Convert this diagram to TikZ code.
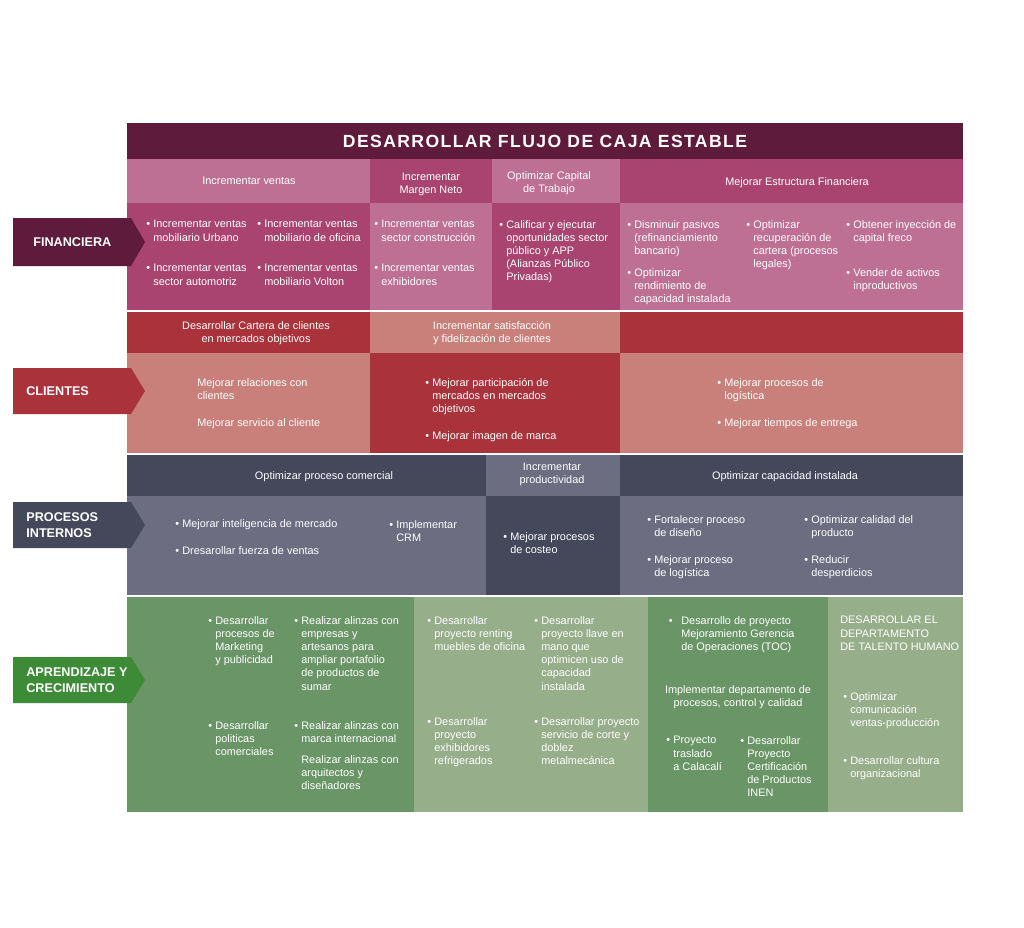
\documentclass[tikz,border=0pt]{standalone}
\usepackage{fontspec}
\setmainfont{Liberation Sans}
\usepackage{tikz}

\definecolor{titulo}{HTML}{5F1B3C}
\definecolor{finD}{HTML}{A8446F}
\definecolor{finL}{HTML}{BD7094}
\definecolor{cliD}{HTML}{A9323B}
\definecolor{cliL}{HTML}{C9807A}
\definecolor{proD}{HTML}{45475B}
\definecolor{proL}{HTML}{6C6D81}
\definecolor{aprD}{HTML}{6A9566}
\definecolor{aprL}{HTML}{97AE8B}
\definecolor{aprV}{HTML}{3E8B37}
\newcommand\bul{\llap{\textbullet\hspace{1.8pt}}}

\begin{document}
\begin{tikzpicture}[x=0.02cm, y=-0.02cm,
    txt/.style={text=white, inner sep=0pt, font=\fontsize{6.2}{7.5}\selectfont},
    item/.style={txt, anchor=north west, align=left},
    head/.style={txt, align=center},
    persp/.style={text=white, inner sep=0pt, anchor=west, align=left,
      font=\fontsize{7.2}{9}\selectfont\bfseries}]
  \useasboundingbox (0,0) rectangle (1024,927);

   % title
  \fill[titulo] (127,123) rectangle (963,159);
  \node[txt, font=\fontsize{10}{12}\selectfont\bfseries\addfontfeatures{LetterSpace=8}] (titulo) at (545,141) {DESARROLLAR FLUJO DE CAJA ESTABLE};

   % financiera
  \fill[finL] (127,159) rectangle (370,203);
  \fill[finD] (370,159) rectangle (492,203);
  \fill[finL] (492,159) rectangle (620,203);
  \fill[finD] (620,159) rectangle (963,203);
  \fill[finD] (127,203) rectangle (370,310);
  \fill[finL] (370,203) rectangle (492,310);
  \fill[finD] (492,203) rectangle (620,310);
  \fill[finL] (620,203) rectangle (963,310);
  \fill[titulo] (13,218) -- (131,218) -- (145,242) -- (131,266) -- (13,266) -- cycle;
  \node[persp] (fin) at (33,242) {FINANCIERA};

  \node[head] (fh1) at (249,181) {Incrementar ventas};
  \node[head] (fh2) at (431,184) {Incrementar\\Margen Neto};
  \node[head] (fh3) at (549,183) {Optimizar Capital\\de Trabajo};
  \node[head] (fh4) at (797,183) {Mejorar Estructura Financiera};

  \node[item] (f1) at (153,220) {\bul Incrementar ventas\\mobiliario Urbano};
  \node[item] (f2) at (264,220) {\bul Incrementar ventas\\mobiliario de oficina};
  \node[item] (f3) at (153,264) {\bul Incrementar ventas\\sector automotriz};
  \node[item] (f4) at (264,264) {\bul Incrementar ventas\\mobiliario Volton};
  \node[item] (f5) at (381,220) {\bul Incrementar ventas\\sector construcción};
  \node[item] (f6) at (381,264) {\bul Incrementar ventas\\exhibidores};
  \node[item] (f7) at (506,220) {\bul Calificar y ejecutar\\oportunidades sector\\público y APP\\(Alianzas Público\\Privadas)};
  \node[item] (f8) at (634,220) {\bul Disminuir pasivos\\(refinanciamiento\\bancario)};
  \node[item] (f9) at (634,268) {\bul Optimizar\\rendimiento de\\capacidad instalada};
  \node[item] (f10) at (753,220) {\bul Optimizar\\recuperación de\\cartera (procesos\\legales)};
  \node[item] (f11) at (853,220) {\bul Obtener inyección de\\capital freco};
  \node[item] (f12) at (853,268) {\bul Vender de activos\\inproductivos};

   % clientes
  \fill[cliD] (127,312) rectangle (370,353);
  \fill[cliL] (370,312) rectangle (620,353);
  \fill[cliD] (620,312) rectangle (963,353);
  \fill[cliL] (127,353) rectangle (370,453);
  \fill[cliD] (370,353) rectangle (620,453);
  \fill[cliL] (620,353) rectangle (963,453);
  \fill[cliD] (13,368) -- (131,368) -- (145,391) -- (131,414) -- (13,414) -- cycle;
  \node[persp] (cli) at (26,391) {CLIENTES};

  \node[head] (ch1) at (256,333) {Desarrollar Cartera de clientes\\en mercados objetivos};
  \node[head] (ch2) at (492,333) {Incrementar satisfacción\\y fidelización de clientes};

  \node[item] (c1) at (197,378) {Mejorar relaciones con\\clientes};
  \node[item] (c2) at (197,418) {Mejorar servicio al cliente};
  \node[item] (c3) at (432,378) {\bul Mejorar participación de\\mercados en mercados\\objetivos};
  \node[item] (c4) at (432,431) {\bul Mejorar imagen de marca};
  \node[item] (c5) at (724,378) {\bul Mejorar procesos de\\logística};
  \node[item] (c6) at (724,418) {\bul Mejorar tiempos de entrega};

   % procesos internos
  \fill[proD] (127,455) rectangle (486,496);
  \fill[proL] (486,455) rectangle (620,496);
  \fill[proD] (620,455) rectangle (963,496);
  \fill[proL] (127,496) rectangle (486,595);
  \fill[proD] (486,496) rectangle (620,595);
  \fill[proL] (620,496) rectangle (963,595);
  \fill[proD] (13,502) -- (131,502) -- (145,525) -- (131,548) -- (13,548) -- cycle;
  \node[persp] (pro) at (26,525) {PROCESOS\\INTERNOS};

  \node[head] (ph1) at (324,477) {Optimizar proceso comercial};
  \node[head] (ph2) at (552,474) {Incrementar\\productividad};
  \node[head] (ph3) at (785,477) {Optimizar capacidad instalada};

  \node[item] (p1) at (182,519) {\bul Mejorar inteligencia de mercado};
  \node[item] (p2) at (182,546) {\bul Dresarollar fuerza de ventas};
  \node[item] (p3) at (396,520) {\bul Implementar\\CRM};
  \node[item] (p4) at (510,532) {\bul Mejorar procesos\\de costeo};
  \node[item] (p5) at (654,515) {\bul Fortalecer proceso\\de diseño};
  \node[item] (p6) at (654,555) {\bul Mejorar proceso\\de logística};
  \node[item] (p7) at (811,515) {\bul Optimizar calidad del\\producto};
  \node[item] (p8) at (811,555) {\bul Reducir\\desperdicios};

   % aprendizaje y crecimiento
  \fill[aprD] (127,597) rectangle (414,812);
  \fill[aprL] (414,597) rectangle (648,812);
  \fill[aprD] (648,597) rectangle (828,812);
  \fill[aprL] (828,597) rectangle (963,812);
  \fill[aprV] (13,657) -- (131,657) -- (145,680) -- (131,703) -- (13,703) -- cycle;
  \node[persp] (apr) at (26,680) {APRENDIZAJE Y\\CRECIMIENTO};

  \node[item] (a1) at (215,616) {\bul Desarrollar\\procesos de\\Marketing\\y publicidad};
  \node[item] (a2) at (301,616) {\bul Realizar alinzas con\\empresas y\\artesanos para\\ampliar portafolio\\de productos de\\sumar};
  \node[item] (a3) at (215,721) {\bul Desarrollar\\politicas\\comerciales};
  \node[item] (a4) at (301,721) {\bul Realizar alinzas con\\marca internacional};
  \node[item] (a5) at (301,755) {Realizar alinzas con\\arquitectos y\\diseñadores};
  \node[item] (a6) at (434,616) {\bul Desarrollar\\proyecto renting\\muebles de oficina};
  \node[item] (a7) at (541,616) {\bul Desarrollar\\proyecto llave en\\mano que\\optimicen uso de\\capacidad\\instalada};
  \node[item] (a8) at (434,717) {\bul Desarrollar\\proyecto\\exhibidores\\refrigerados};
  \node[item] (a9) at (541,717) {\bul Desarrollar proyecto\\servicio de corte y\\doblez\\metalmecánica};
  \node[item] (a10) at (681,616) {\llap{\textbullet\hspace{5pt}}Desarrollo de proyecto\\Mejoramiento Gerencia\\de Operaciones (TOC)};
  \node[head] (a11) at (738,697) {Implementar departamento de\\procesos, control y calidad};
  \node[item] (a12) at (673,736) {\bul Proyecto\\traslado\\a Calacalí};
  \node[item] (a13) at (747,736) {\bul Desarrollar\\Proyecto\\Certificación\\de Productos\\INEN};
  \node[item] (a14) at (840,616) {DESARROLLAR EL\\DEPARTAMENTO\\DE TALENTO HUMANO};
  \node[item] (a15) at (850,692) {\bul Optimizar\\comunicación\\ventas-producción};
  \node[item] (a16) at (850,756) {\bul Desarrollar cultura\\organizacional};
\end{tikzpicture}
\end{document}
